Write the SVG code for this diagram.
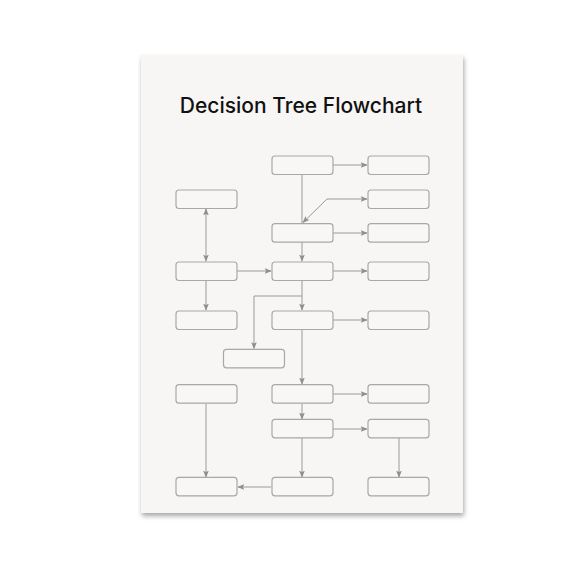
<svg xmlns="http://www.w3.org/2000/svg" width="576" height="576" viewBox="0 0 576 576">
<defs>
<filter id="sh" x="-10%" y="-10%" width="120%" height="120%">
<feGaussianBlur in="SourceAlpha" stdDeviation="2.5"/>
<feOffset dx="1" dy="3" result="b"/>
<feComponentTransfer><feFuncA type="linear" slope="0.35"/></feComponentTransfer>
<feMerge><feMergeNode/><feMergeNode in="SourceGraphic"/></feMerge>
</filter>
<marker id="ah" viewBox="0 0 10 10" refX="9" refY="5" markerWidth="7" markerHeight="7" markerUnits="userSpaceOnUse" orient="auto-start-reverse">
<path d="M0,1 L10,5 L0,9 L2,5 Z" fill="#8f8f8f"/>
</marker>
</defs>
<style>
.n{fill:#f8f7f5;stroke:#a8a8a8;stroke-width:1.2}
.c{fill:none;stroke:#9a9a9a;stroke-width:1}
.t{font-family:Inter,"Liberation Sans",sans-serif;font-size:21px;font-weight:500;fill:#111111}
</style>
<rect width="576" height="576" fill="#ffffff"/>
<rect x="141" y="55" width="322" height="458" fill="#f7f6f4" filter="url(#sh)"/>
<text class="t" x="301" y="113" text-anchor="middle">Decision Tree Flowchart</text>
<g id="connectors">
<line class="c" x1="333" y1="165" x2="367" y2="165" marker-end="url(#ah)"/>
<line class="c" x1="302" y1="175" x2="302" y2="223"/>
<polyline class="c" points="303,222.5 327,199 367,199" marker-start="url(#ah)" marker-end="url(#ah)"/>
<line class="c" x1="333" y1="233" x2="367" y2="233" marker-end="url(#ah)"/>
<line class="c" x1="302" y1="242" x2="302" y2="261" marker-end="url(#ah)"/>
<line class="c" x1="206" y1="209" x2="206" y2="261" marker-start="url(#ah)" marker-end="url(#ah)"/>
<line class="c" x1="237" y1="271" x2="271" y2="271" marker-end="url(#ah)"/>
<line class="c" x1="333" y1="271" x2="367" y2="271" marker-end="url(#ah)"/>
<line class="c" x1="206" y1="281" x2="206" y2="310" marker-end="url(#ah)"/>
<line class="c" x1="302" y1="281" x2="302" y2="310" marker-end="url(#ah)"/>
<polyline class="c" points="302,296 254,296 254,348.5" marker-end="url(#ah)"/>
<line class="c" x1="333" y1="320" x2="367" y2="320" marker-end="url(#ah)"/>
<line class="c" x1="302" y1="330" x2="302" y2="384" marker-end="url(#ah)"/>
<line class="c" x1="333" y1="394" x2="367" y2="394" marker-end="url(#ah)"/>
<line class="c" x1="206" y1="404" x2="206" y2="477" marker-end="url(#ah)"/>
<line class="c" x1="302" y1="404" x2="302" y2="419" marker-end="url(#ah)"/>
<line class="c" x1="333" y1="429" x2="367" y2="429" marker-end="url(#ah)"/>
<line class="c" x1="302" y1="438" x2="302" y2="477" marker-end="url(#ah)"/>
<line class="c" x1="399" y1="438" x2="399" y2="477" marker-end="url(#ah)"/>
<line class="c" x1="271" y1="487" x2="238" y2="487" marker-end="url(#ah)"/>
</g>
<g id="n1"><rect class="n" x="272" y="156" width="61" height="18.5" rx="3"/></g>
<g id="n2"><rect class="n" x="368" y="156" width="61" height="18.5" rx="3"/></g>
<g id="n3"><rect class="n" x="176" y="190" width="61" height="18.5" rx="3"/></g>
<g id="n4"><rect class="n" x="368" y="190" width="61" height="18.5" rx="3"/></g>
<g id="n5"><rect class="n" x="272" y="223.7" width="61" height="18.5" rx="3"/></g>
<g id="n6"><rect class="n" x="368" y="223.7" width="61" height="18.5" rx="3"/></g>
<g id="n7"><rect class="n" x="176" y="262" width="61" height="18.5" rx="3"/></g>
<g id="n8"><rect class="n" x="272" y="262" width="61" height="18.5" rx="3"/></g>
<g id="n9"><rect class="n" x="368" y="262" width="61" height="18.5" rx="3"/></g>
<g id="n10"><rect class="n" x="176" y="311" width="61" height="18.5" rx="3"/></g>
<g id="n11"><rect class="n" x="272" y="311" width="61" height="18.5" rx="3"/></g>
<g id="n12"><rect class="n" x="368" y="311" width="61" height="18.5" rx="3"/></g>
<g id="n13"><rect class="n" x="223.5" y="349.3" width="61" height="18.5" rx="3"/></g>
<g id="n14"><rect class="n" x="176" y="384.7" width="61" height="18.5" rx="3"/></g>
<g id="n15"><rect class="n" x="272" y="384.7" width="61" height="18.5" rx="3"/></g>
<g id="n16"><rect class="n" x="368" y="384.7" width="61" height="18.5" rx="3"/></g>
<g id="n17"><rect class="n" x="272" y="419.3" width="61" height="18.5" rx="3"/></g>
<g id="n18"><rect class="n" x="368" y="419.3" width="61" height="18.5" rx="3"/></g>
<g id="n19"><rect class="n" x="176" y="477.3" width="61" height="18.5" rx="3"/></g>
<g id="n20"><rect class="n" x="272" y="477.3" width="61" height="18.5" rx="3"/></g>
<g id="n21"><rect class="n" x="368" y="477.3" width="61" height="18.5" rx="3"/></g>
</svg>
